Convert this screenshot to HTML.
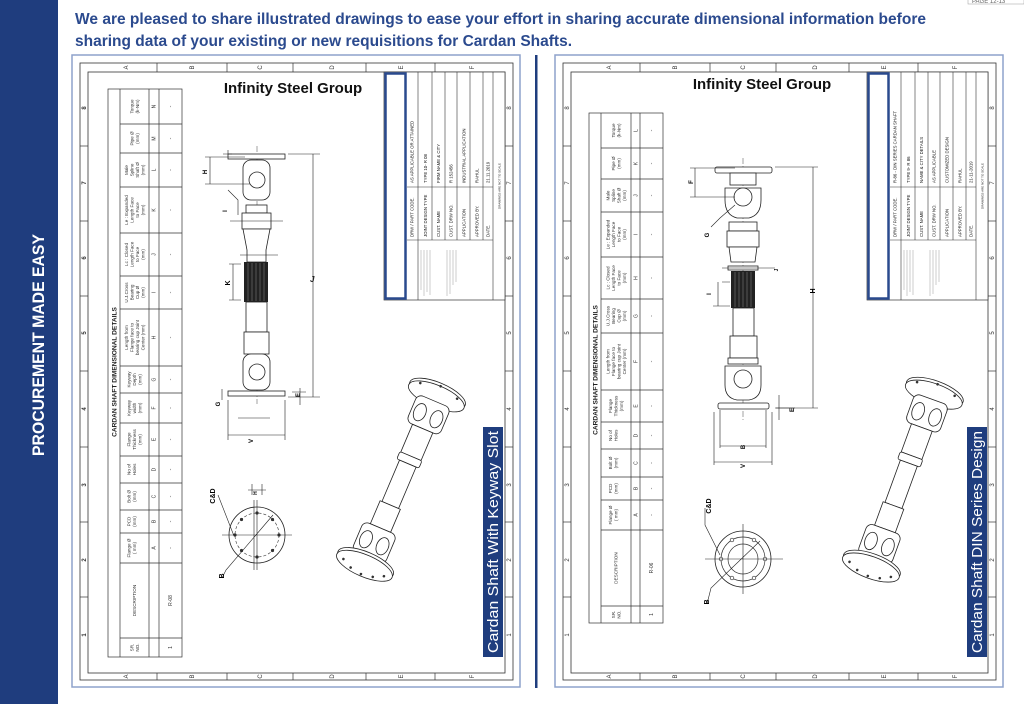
<!DOCTYPE html>
<html><head><meta charset="utf-8"><style>
html,body{margin:0;padding:0;background:#fff;}
svg{display:block;}
text{font-family:"Liberation Sans",sans-serif;}
.s{font-family:"Liberation Serif",serif;}
.h{font-size:4.6px;fill:#333;}
.l{font-size:5px;fill:#333;}
.z{font-size:6px;fill:#333;}
.tb{font-size:4.3px;fill:#111;}
.dl{stroke:#222;stroke-width:.6;fill:none;}
.ln{stroke:#222;stroke-width:.8;fill:#fff;}
</style></head><body>
<svg width="1024" height="704" viewBox="0 0 1024 704" xmlns="http://www.w3.org/2000/svg">
<rect width="1024" height="704" fill="#fff"/>
<!-- left band -->
<rect x="0" y="0" width="58" height="704" fill="#1f3d7e"/>
<text transform="translate(44,345) rotate(-90)" text-anchor="middle" font-size="17" font-weight="bold" fill="#fff" textLength="222" lengthAdjust="spacingAndGlyphs">PROCUREMENT MADE EASY</text>
<!-- header -->
<text x="75" y="24" font-size="16" font-weight="bold" fill="#2b4a8e" textLength="851" lengthAdjust="spacingAndGlyphs">We are pleased to share illustrated drawings to ease your effort in sharing accurate dimensional information before</text>
<text x="75" y="46" font-size="16" font-weight="bold" fill="#2b4a8e" textLength="497" lengthAdjust="spacingAndGlyphs">sharing data of your existing or new requisitions for Cardan Shafts.</text>
<rect x="968" y="-4" width="56" height="8" fill="#fff" stroke="#999" stroke-width=".5"/>
<text x="972" y="3" font-size="6" fill="#666">PAGE 12-13</text>
<!-- separator -->
<rect x="535" y="55" width="2.5" height="633" fill="#1f3d7e"/>

<!-- ============ FRAME (left) ============ -->
<g id="fr">
<rect x="72" y="55" width="448" height="632" fill="none" stroke="#8ea2cc" stroke-width="1.5"/>
<rect x="80" y="63" width="433" height="617" fill="none" stroke="#333" stroke-width=".8"/>
<rect x="88" y="72" width="417" height="601" fill="none" stroke="#333" stroke-width=".8"/>
<g stroke="#333" stroke-width=".7">
<line x1="157" y1="63" x2="157" y2="72"/><line x1="227" y1="63" x2="227" y2="72"/><line x1="293" y1="63" x2="293" y2="72"/><line x1="366" y1="63" x2="366" y2="72"/><line x1="435" y1="63" x2="435" y2="72"/>
<line x1="157" y1="673" x2="157" y2="680"/><line x1="227" y1="673" x2="227" y2="680"/><line x1="293" y1="673" x2="293" y2="680"/><line x1="366" y1="673" x2="366" y2="680"/><line x1="435" y1="673" x2="435" y2="680"/>
<line x1="80" y1="146" x2="88" y2="146"/><line x1="80" y1="221" x2="88" y2="221"/><line x1="80" y1="296" x2="88" y2="296"/><line x1="80" y1="371" x2="88" y2="371"/><line x1="80" y1="447" x2="88" y2="447"/><line x1="80" y1="522" x2="88" y2="522"/><line x1="80" y1="597" x2="88" y2="597"/>
<line x1="505" y1="146" x2="513" y2="146"/><line x1="505" y1="221" x2="513" y2="221"/><line x1="505" y1="296" x2="513" y2="296"/><line x1="505" y1="371" x2="513" y2="371"/><line x1="505" y1="447" x2="513" y2="447"/><line x1="505" y1="522" x2="513" y2="522"/><line x1="505" y1="597" x2="513" y2="597"/>
</g>
<g class="z">
<text transform="translate(126,67.5) rotate(-90)" text-anchor="middle" dy="2">A</text>
<text transform="translate(192,67.5) rotate(-90)" text-anchor="middle" dy="2">B</text>
<text transform="translate(260,67.5) rotate(-90)" text-anchor="middle" dy="2">C</text>
<text transform="translate(332,67.5) rotate(-90)" text-anchor="middle" dy="2">D</text>
<text transform="translate(401,67.5) rotate(-90)" text-anchor="middle" dy="2">E</text>
<text transform="translate(472,67.5) rotate(-90)" text-anchor="middle" dy="2">F</text>
<text transform="translate(126,676.5) rotate(-90)" text-anchor="middle" dy="2">A</text>
<text transform="translate(192,676.5) rotate(-90)" text-anchor="middle" dy="2">B</text>
<text transform="translate(260,676.5) rotate(-90)" text-anchor="middle" dy="2">C</text>
<text transform="translate(332,676.5) rotate(-90)" text-anchor="middle" dy="2">D</text>
<text transform="translate(401,676.5) rotate(-90)" text-anchor="middle" dy="2">E</text>
<text transform="translate(472,676.5) rotate(-90)" text-anchor="middle" dy="2">F</text>
<text transform="translate(84,108) rotate(-90)" text-anchor="middle" dy="2" font-weight="bold">8</text>
<text transform="translate(84,183) rotate(-90)" text-anchor="middle" dy="2" font-weight="bold">7</text>
<text transform="translate(84,258) rotate(-90)" text-anchor="middle" dy="2" font-weight="bold">6</text>
<text transform="translate(84,333) rotate(-90)" text-anchor="middle" dy="2" font-weight="bold">5</text>
<text transform="translate(84,409) rotate(-90)" text-anchor="middle" dy="2" font-weight="bold">4</text>
<text transform="translate(84,485) rotate(-90)" text-anchor="middle" dy="2" font-weight="bold">3</text>
<text transform="translate(84,560) rotate(-90)" text-anchor="middle" dy="2" font-weight="bold">2</text>
<text transform="translate(84,635) rotate(-90)" text-anchor="middle" dy="2" font-weight="bold">1</text>
<text transform="translate(509,108) rotate(-90)" text-anchor="middle" dy="2">8</text>
<text transform="translate(509,183) rotate(-90)" text-anchor="middle" dy="2">7</text>
<text transform="translate(509,258) rotate(-90)" text-anchor="middle" dy="2">6</text>
<text transform="translate(509,333) rotate(-90)" text-anchor="middle" dy="2">5</text>
<text transform="translate(509,409) rotate(-90)" text-anchor="middle" dy="2">4</text>
<text transform="translate(509,485) rotate(-90)" text-anchor="middle" dy="2">3</text>
<text transform="translate(509,560) rotate(-90)" text-anchor="middle" dy="2">2</text>
<text transform="translate(509,635) rotate(-90)" text-anchor="middle" dy="2">1</text>
</g>
<!-- title block -->
<rect x="384" y="72" width="121" height="228" fill="#fff" stroke="#333" stroke-width=".7"/>
<rect x="385.5" y="73.5" width="20" height="225" fill="#fff" stroke="#2a4a8e" stroke-width="2.5"/>
<g stroke="#333" stroke-width=".6">
<line x1="418" y1="72" x2="418" y2="300"/><line x1="432" y1="72" x2="432" y2="240"/><line x1="445" y1="72" x2="445" y2="240"/><line x1="457" y1="72" x2="457" y2="240"/><line x1="470" y1="72" x2="470" y2="240"/><line x1="483" y1="72" x2="483" y2="240"/><line x1="493" y1="72" x2="493" y2="300"/>
<line x1="407" y1="187" x2="493" y2="187"/><line x1="407" y1="240" x2="493" y2="240"/>
</g>
<g stroke="#999" stroke-width=".5">
<line x1="421" y1="250" x2="421" y2="290"/><line x1="424" y1="250" x2="424" y2="296"/><line x1="427" y1="250" x2="427" y2="292"/><line x1="430" y1="250" x2="430" y2="295"/>
<line x1="447" y1="250" x2="447" y2="296"/><line x1="450" y1="250" x2="450" y2="294"/><line x1="453" y1="250" x2="453" y2="285"/><line x1="456" y1="250" x2="456" y2="282"/>
</g>
</g>

<!-- left title block text -->
<g class="s tb">
<text transform="translate(413.5,237) rotate(-90)">DRW / PART CODE.</text>
<text transform="translate(427,237) rotate(-90)">JOINT DESIGN TYPE</text>
<text transform="translate(440,237) rotate(-90)">CUST. NAME</text>
<text transform="translate(452.5,237) rotate(-90)">CUST. DRW NO.</text>
<text transform="translate(465.5,237) rotate(-90)">APPLICATION</text>
<text transform="translate(478.5,237) rotate(-90)">APPROVED BY.</text>
<text transform="translate(489.5,237) rotate(-90)">DATE.</text>
<text transform="translate(413.5,183) rotate(-90)">AS APPLICABLE OR ATTAINED</text>
<text transform="translate(427,183) rotate(-90)">TYPE 10- R 08</text>
<text transform="translate(440,183) rotate(-90)">FIRM NAME &amp; CITY</text>
<text transform="translate(452.5,183) rotate(-90)">R 152456</text>
<text transform="translate(465.5,183) rotate(-90)">INDUSTRIAL APPLICATION</text>
<text transform="translate(478.5,183) rotate(-90)">RAHUL</text>
<text transform="translate(489.5,183) rotate(-90)">21.11.2019</text>
<text transform="translate(500.5,186) rotate(-90)" text-anchor="middle" font-size="3">DRAWINGS ARE NOT TO SCALE</text>
</g>
<text x="293" y="93" text-anchor="middle" font-size="15" font-weight="bold" fill="#111">Infinity Steel Group</text>
<rect x="483" y="427" width="20" height="230" fill="#1f3d7e"/>
<text transform="translate(498,542) rotate(-90)" text-anchor="middle" font-size="14.5" fill="#fff" textLength="222" lengthAdjust="spacingAndGlyphs">Cardan Shaft With Keyway Slot</text>

<!-- left table -->
<g stroke="#333" stroke-width=".7" fill="none">
<rect x="108" y="89" width="74" height="568"/>
<line x1="120" y1="89" x2="120" y2="657"/><line x1="149" y1="89" x2="149" y2="657"/><line x1="159" y1="89" x2="159" y2="657"/>
<g>
<line x1="120" y1="124" x2="182" y2="124"/><line x1="120" y1="153" x2="182" y2="153"/><line x1="120" y1="187" x2="182" y2="187"/><line x1="120" y1="233" x2="182" y2="233"/><line x1="120" y1="276" x2="182" y2="276"/><line x1="120" y1="309" x2="182" y2="309"/><line x1="120" y1="366" x2="182" y2="366"/><line x1="120" y1="393" x2="182" y2="393"/><line x1="120" y1="423" x2="182" y2="423"/><line x1="120" y1="456" x2="182" y2="456"/><line x1="120" y1="483" x2="182" y2="483"/><line x1="120" y1="510" x2="182" y2="510"/><line x1="120" y1="533" x2="182" y2="533"/><line x1="120" y1="563" x2="182" y2="563"/><line x1="120" y1="638" x2="182" y2="638"/>
</g></g>
<text transform="translate(116.5,372) rotate(-90)" text-anchor="middle" font-size="6.6" font-weight="bold" fill="#222">CARDAN SHAFT DIMENSIONAL DETAILS</text>
<g class="h" text-anchor="middle">
<text transform="translate(134.5,106.5) rotate(-90)"><tspan x="0" y="-1.15">Torque</tspan><tspan x="0" y="4.35">(k-Nm)</tspan></text>
<text transform="translate(134.5,138.5) rotate(-90)"><tspan x="0" y="-1.15">Pipe Ø</tspan><tspan x="0" y="4.35">(mm)</tspan></text>
<text transform="translate(134.5,170) rotate(-90)"><tspan x="0" y="-6.65">Male</tspan><tspan x="0" y="-1.15">Spline</tspan><tspan x="0" y="4.35">Shaft Ø</tspan><tspan x="0" y="9.85">(mm)</tspan></text>
<text transform="translate(134.5,210) rotate(-90)"><tspan x="0" y="-6.65">Le : Expanded</tspan><tspan x="0" y="-1.15">Length Face</tspan><tspan x="0" y="4.35">to Face</tspan><tspan x="0" y="9.85">(mm)</tspan></text>
<text transform="translate(134.5,254.5) rotate(-90)"><tspan x="0" y="-6.65">Lc : Closed</tspan><tspan x="0" y="-1.15">Length Face</tspan><tspan x="0" y="4.35">to Face</tspan><tspan x="0" y="9.85">(mm)</tspan></text>
<text transform="translate(134.5,292.5) rotate(-90)"><tspan x="0" y="-6.65">U.J.Cross</tspan><tspan x="0" y="-1.15">Bearing</tspan><tspan x="0" y="4.35">Cup Ø</tspan><tspan x="0" y="9.85">(mm)</tspan></text>
<text transform="translate(134.5,337.5) rotate(-90)"><tspan x="0" y="-6.65">Length from</tspan><tspan x="0" y="-1.15">Flange face to</tspan><tspan x="0" y="4.35">bearing cup Joint</tspan><tspan x="0" y="9.85">Center (mm)</tspan></text>
<text transform="translate(134.5,379.5) rotate(-90)"><tspan x="0" y="-3.9">Keyway</tspan><tspan x="0" y="1.6">Depth</tspan><tspan x="0" y="7.1">(mm)</tspan></text>
<text transform="translate(134.5,408) rotate(-90)"><tspan x="0" y="-3.9">Keyway</tspan><tspan x="0" y="1.6">width</tspan><tspan x="0" y="7.1">(mm)</tspan></text>
<text transform="translate(134.5,439.5) rotate(-90)"><tspan x="0" y="-3.9">Flange</tspan><tspan x="0" y="1.6">Thickness</tspan><tspan x="0" y="7.1">(mm)</tspan></text>
<text transform="translate(134.5,469.5) rotate(-90)"><tspan x="0" y="-3.9">No of</tspan><tspan x="0" y="1.6">Holes</tspan></text>
<text transform="translate(134.5,496.5) rotate(-90)"><tspan x="0" y="-3.9">Bolt Ø</tspan><tspan x="0" y="1.6">(mm)</tspan></text>
<text transform="translate(134.5,521.5) rotate(-90)"><tspan x="0" y="-3.9">PCD</tspan><tspan x="0" y="1.6">(mm)</tspan></text>
<text transform="translate(134.5,548) rotate(-90)"><tspan x="0" y="-3.9">Flange Ø</tspan><tspan x="0" y="1.6">( mm)</tspan></text>
<text transform="translate(134.5,600.5) rotate(-90)"><tspan x="0" y="1.6">DESCRIPTION</tspan></text>
<text transform="translate(134.5,647.5) rotate(-90)"><tspan x="0" y="-1.15">SR.</tspan><tspan x="0" y="4.35">NO.</tspan></text>
</g>
<g class="l" text-anchor="middle">
<text transform="translate(155.5,106.5) rotate(-90)">N</text><text transform="translate(155.5,138.5) rotate(-90)">M</text><text transform="translate(155.5,170) rotate(-90)">L</text><text transform="translate(155.5,210) rotate(-90)">K</text><text transform="translate(155.5,254.5) rotate(-90)">J</text><text transform="translate(155.5,292.5) rotate(-90)">I</text><text transform="translate(155.5,337.5) rotate(-90)">H</text><text transform="translate(155.5,379.5) rotate(-90)">G</text><text transform="translate(155.5,408) rotate(-90)">F</text><text transform="translate(155.5,439.5) rotate(-90)">E</text><text transform="translate(155.5,469.5) rotate(-90)">D</text><text transform="translate(155.5,496.5) rotate(-90)">C</text><text transform="translate(155.5,521.5) rotate(-90)">B</text><text transform="translate(155.5,548) rotate(-90)">A</text>
<text transform="translate(172,106.5) rotate(-90)">-</text><text transform="translate(172,138.5) rotate(-90)">-</text><text transform="translate(172,170) rotate(-90)">-</text><text transform="translate(172,210) rotate(-90)">-</text><text transform="translate(172,254.5) rotate(-90)">-</text><text transform="translate(172,292.5) rotate(-90)">-</text><text transform="translate(172,337.5) rotate(-90)">-</text><text transform="translate(172,379.5) rotate(-90)">-</text><text transform="translate(172,408) rotate(-90)">-</text><text transform="translate(172,439.5) rotate(-90)">-</text><text transform="translate(172,469.5) rotate(-90)">-</text><text transform="translate(172,496.5) rotate(-90)">-</text><text transform="translate(172,521.5) rotate(-90)">-</text><text transform="translate(172,548) rotate(-90)">-</text>
<text transform="translate(172,600.5) rotate(-90)">R-08</text><text transform="translate(172,647.5) rotate(-90)">1</text>
</g>

<!-- left side-view shaft -->
<g>
<line x1="257" y1="146" x2="257" y2="404" stroke="#444" stroke-width=".5" stroke-dasharray="6,2,1,2"/>
<rect class="ln" x="228" y="154" width="57" height="5"/>
<rect class="ln" x="243" y="160" width="27" height="40" rx="8"/>
<circle class="ln" cx="257" cy="180" r="8"/>
<rect class="ln" x="246" y="205" width="21" height="8"/>
<rect class="ln" x="242" y="213" width="29" height="16"/>
<path class="ln" d="M243 229 L247 250 L247 262 L266 262 L266 250 L270 229 Z"/>
<rect x="244" y="262" width="24" height="40" fill="#222"/>
<g stroke="#888" stroke-width=".5"><line x1="248" y1="263" x2="248" y2="301"/><line x1="252" y1="263" x2="252" y2="301"/><line x1="256" y1="263" x2="256" y2="301"/><line x1="260" y1="263" x2="260" y2="301"/><line x1="264" y1="263" x2="264" y2="301"/></g>
<rect class="ln" x="246" y="302" width="21" height="30"/>
<rect class="ln" x="244" y="332" width="25" height="22"/>
<rect class="ln" x="243" y="354" width="27" height="36" rx="8"/>
<circle class="ln" cx="257" cy="372" r="8"/>
<rect class="ln" x="228" y="391" width="57" height="5"/>
<path class="dl" d="M240 255 L278 255 M228 154 L228 150 M223 154 L232 154"/>
<path class="dl" d="M288 154 L320 154 M313 154 L313 397 M288 397 L320 397"/>
<text x="310" y="282" font-size="8" font-style="italic" font-weight="bold" fill="#222">J</text>
<path class="dl" d="M205 157 L245 157 M210 157 L210 184 M205 184 L250 184"/>
<text transform="translate(207,172) rotate(-90)" font-size="6" font-weight="bold" text-anchor="middle">H</text>
<path class="dl" d="M229 264 L241 264 M233 264 L233 300 M229 300 L241 300"/>
<text transform="translate(230,283) rotate(-90)" font-size="7" font-weight="bold" text-anchor="middle">K</text>
<path class="dl" d="M228 190 L238 200 L238 215 M230 221 L283 221"/>
<text transform="translate(227,211) rotate(-90)" font-size="6" font-weight="bold" text-anchor="middle">I</text>
<path class="dl" d="M228 400 L228 440 M285 400 L285 440 M228 435 L285 435 M238 418 L270 418"/>
<text transform="translate(253,441) rotate(-90)" font-size="6" font-weight="bold" text-anchor="middle">V</text>
<path class="dl" d="M222 389 L222 400 M300 388 L300 405 M292 392 L306 392"/>
<text transform="translate(220,404) rotate(-90)" font-size="6" font-weight="bold" text-anchor="middle">G</text>
<text transform="translate(300,395) rotate(-90)" font-size="6" font-weight="bold" text-anchor="middle">E</text>
</g>
<!-- left flange view -->
<g>
<circle class="ln" cx="257" cy="535" r="28" stroke-width="1"/>
<circle cx="257" cy="535" r="22" fill="none" stroke="#333" stroke-width=".6" stroke-dasharray="3,2"/>
<g fill="#333"><circle cx="279" cy="535" r="1.6"/><circle cx="235" cy="535" r="1.6"/><circle cx="257" cy="513" r="1.6"/><circle cx="257" cy="557" r="1.6"/><circle cx="272.5" cy="519.5" r="1.6"/><circle cx="241.5" cy="519.5" r="1.6"/><circle cx="272.5" cy="550.5" r="1.6"/><circle cx="241.5" cy="550.5" r="1.6"/></g>
<path class="dl" d="M222 535 L292 535 M257 500 L257 570 M254 500 L254 570 M248 490 L266 490 M252 484 L252 495 M262 484 L262 495 M273 515 L226 570 L222 578 M234 536 L218 495"/>
<text transform="translate(215,496) rotate(-90)" font-size="7" font-weight="bold" text-anchor="middle">C&amp;D</text>
<text transform="translate(224,576) rotate(-90)" font-size="7" font-weight="bold" text-anchor="middle">B</text>
<text transform="translate(257,493) rotate(-90)" font-size="5" font-weight="bold" text-anchor="middle">H</text>
</g>
<!-- left iso shaft -->
<g transform="translate(400,482) rotate(23)">
<ellipse class="ln" cx="0" cy="-96" rx="30" ry="11"/>
<ellipse class="ln" cx="0" cy="-93" rx="30" ry="11"/>
<rect class="ln" x="-18" y="-88" width="36" height="30" rx="6"/>
<ellipse class="ln" cx="-9" cy="-72" rx="6" ry="9"/><ellipse class="ln" cx="9" cy="-72" rx="6" ry="9"/>
<rect class="ln" x="-11" y="-58" width="22" height="30"/>
<rect class="ln" x="-12" y="-28" width="24" height="8" rx="2"/>
<rect class="ln" x="-9" y="-20" width="18" height="45"/>
<rect class="ln" x="-11" y="25" width="22" height="25"/>
<rect class="ln" x="-18" y="50" width="36" height="32" rx="6"/>
<ellipse class="ln" cx="-9" cy="66" rx="6" ry="9"/><ellipse class="ln" cx="9" cy="66" rx="6" ry="9"/>
<ellipse class="ln" cx="0" cy="88" rx="30" ry="11"/>
<ellipse class="ln" cx="0" cy="91" rx="30" ry="11"/>
<g fill="#333"><circle cx="-22" cy="93" r="1.3"/><circle cx="22" cy="93" r="1.3"/><circle cx="0" cy="100" r="1.3"/><circle cx="-12" cy="98" r="1.3"/><circle cx="12" cy="98" r="1.3"/><circle cx="-20" cy="-99" r="1.3"/><circle cx="20" cy="-99" r="1.3"/><circle cx="0" cy="-104" r="1.3"/></g>
</g>

<!-- ============ RIGHT PANEL ============ -->
<g transform="translate(483,0)">
<rect x="72" y="55" width="448" height="632" fill="none" stroke="#8ea2cc" stroke-width="1.5"/>
<rect x="80" y="63" width="433" height="617" fill="none" stroke="#333" stroke-width=".8"/>
<rect x="88" y="72" width="417" height="601" fill="none" stroke="#333" stroke-width=".8"/>
<g stroke="#333" stroke-width=".7">
<line x1="157" y1="63" x2="157" y2="72"/><line x1="227" y1="63" x2="227" y2="72"/><line x1="293" y1="63" x2="293" y2="72"/><line x1="366" y1="63" x2="366" y2="72"/><line x1="435" y1="63" x2="435" y2="72"/>
<line x1="157" y1="673" x2="157" y2="680"/><line x1="227" y1="673" x2="227" y2="680"/><line x1="293" y1="673" x2="293" y2="680"/><line x1="366" y1="673" x2="366" y2="680"/><line x1="435" y1="673" x2="435" y2="680"/>
<line x1="80" y1="146" x2="88" y2="146"/><line x1="80" y1="221" x2="88" y2="221"/><line x1="80" y1="296" x2="88" y2="296"/><line x1="80" y1="371" x2="88" y2="371"/><line x1="80" y1="447" x2="88" y2="447"/><line x1="80" y1="522" x2="88" y2="522"/><line x1="80" y1="597" x2="88" y2="597"/>
<line x1="505" y1="146" x2="513" y2="146"/><line x1="505" y1="221" x2="513" y2="221"/><line x1="505" y1="296" x2="513" y2="296"/><line x1="505" y1="371" x2="513" y2="371"/><line x1="505" y1="447" x2="513" y2="447"/><line x1="505" y1="522" x2="513" y2="522"/><line x1="505" y1="597" x2="513" y2="597"/>
</g>
<g class="z">
<text transform="translate(126,67.5) rotate(-90)" text-anchor="middle" dy="2">A</text>
<text transform="translate(192,67.5) rotate(-90)" text-anchor="middle" dy="2">B</text>
<text transform="translate(260,67.5) rotate(-90)" text-anchor="middle" dy="2">C</text>
<text transform="translate(332,67.5) rotate(-90)" text-anchor="middle" dy="2">D</text>
<text transform="translate(401,67.5) rotate(-90)" text-anchor="middle" dy="2">E</text>
<text transform="translate(472,67.5) rotate(-90)" text-anchor="middle" dy="2">F</text>
<text transform="translate(126,676.5) rotate(-90)" text-anchor="middle" dy="2">A</text>
<text transform="translate(192,676.5) rotate(-90)" text-anchor="middle" dy="2">B</text>
<text transform="translate(260,676.5) rotate(-90)" text-anchor="middle" dy="2">C</text>
<text transform="translate(332,676.5) rotate(-90)" text-anchor="middle" dy="2">D</text>
<text transform="translate(401,676.5) rotate(-90)" text-anchor="middle" dy="2">E</text>
<text transform="translate(472,676.5) rotate(-90)" text-anchor="middle" dy="2">F</text>
<text transform="translate(84,108) rotate(-90)" text-anchor="middle" dy="2">8</text>
<text transform="translate(84,183) rotate(-90)" text-anchor="middle" dy="2">7</text>
<text transform="translate(84,258) rotate(-90)" text-anchor="middle" dy="2">6</text>
<text transform="translate(84,333) rotate(-90)" text-anchor="middle" dy="2">5</text>
<text transform="translate(84,409) rotate(-90)" text-anchor="middle" dy="2">4</text>
<text transform="translate(84,485) rotate(-90)" text-anchor="middle" dy="2">3</text>
<text transform="translate(84,560) rotate(-90)" text-anchor="middle" dy="2">2</text>
<text transform="translate(84,635) rotate(-90)" text-anchor="middle" dy="2">1</text>
<text transform="translate(509,108) rotate(-90)" text-anchor="middle" dy="2">8</text>
<text transform="translate(509,183) rotate(-90)" text-anchor="middle" dy="2">7</text>
<text transform="translate(509,258) rotate(-90)" text-anchor="middle" dy="2">6</text>
<text transform="translate(509,333) rotate(-90)" text-anchor="middle" dy="2">5</text>
<text transform="translate(509,409) rotate(-90)" text-anchor="middle" dy="2">4</text>
<text transform="translate(509,485) rotate(-90)" text-anchor="middle" dy="2">3</text>
<text transform="translate(509,560) rotate(-90)" text-anchor="middle" dy="2">2</text>
<text transform="translate(509,635) rotate(-90)" text-anchor="middle" dy="2">1</text>
</g>
<rect x="384" y="72" width="121" height="228" fill="#fff" stroke="#333" stroke-width=".7"/>
<rect x="385.5" y="73.5" width="20" height="225" fill="#fff" stroke="#2a4a8e" stroke-width="2.5"/>
<g stroke="#333" stroke-width=".6">
<line x1="418" y1="72" x2="418" y2="300"/><line x1="432" y1="72" x2="432" y2="240"/><line x1="445" y1="72" x2="445" y2="240"/><line x1="457" y1="72" x2="457" y2="240"/><line x1="470" y1="72" x2="470" y2="240"/><line x1="483" y1="72" x2="483" y2="240"/><line x1="493" y1="72" x2="493" y2="300"/>
<line x1="407" y1="187" x2="493" y2="187"/><line x1="407" y1="240" x2="493" y2="240"/>
</g>
<g stroke="#999" stroke-width=".5">
<line x1="421" y1="250" x2="421" y2="290"/><line x1="424" y1="250" x2="424" y2="296"/><line x1="427" y1="250" x2="427" y2="292"/><line x1="430" y1="250" x2="430" y2="295"/>
<line x1="447" y1="250" x2="447" y2="296"/><line x1="450" y1="250" x2="450" y2="294"/><line x1="453" y1="250" x2="453" y2="285"/><line x1="456" y1="250" x2="456" y2="282"/>
</g>
<g class="s tb">
<text transform="translate(413.5,237) rotate(-90)">DRW / PART CODE.</text>
<text transform="translate(427,237) rotate(-90)">JOINT DESIGN TYPE</text>
<text transform="translate(440,237) rotate(-90)">CUST. NAME</text>
<text transform="translate(452.5,237) rotate(-90)">CUST. DRW NO.</text>
<text transform="translate(465.5,237) rotate(-90)">APPLICATION</text>
<text transform="translate(478.5,237) rotate(-90)">APPROVED BY.</text>
<text transform="translate(489.5,237) rotate(-90)">DATE.</text>
<text transform="translate(413.5,183) rotate(-90)">R-86 - DIN SERIES CARDAN SHAFT</text>
<text transform="translate(427,183) rotate(-90)">TYPE 9- R 86</text>
<text transform="translate(440,183) rotate(-90)">NAME &amp; CITY DETAILS</text>
<text transform="translate(452.5,183) rotate(-90)">AS APPLICABLE</text>
<text transform="translate(465.5,183) rotate(-90)">CUSTOMIZED DESIGN</text>
<text transform="translate(478.5,183) rotate(-90)">RAHUL</text>
<text transform="translate(489.5,183) rotate(-90)">21-11-2019</text>
<text transform="translate(500.5,186) rotate(-90)" text-anchor="middle" font-size="3">DRAWINGS ARE NOT TO SCALE</text>
</g>
<rect x="484" y="427" width="20" height="230" fill="#1f3d7e"/>
<text transform="translate(499,542) rotate(-90)" text-anchor="middle" font-size="14.5" fill="#fff" textLength="222" lengthAdjust="spacingAndGlyphs">Cardan Shaft DIN Series Design</text>
</g>
<text x="762" y="89" text-anchor="middle" font-size="15" font-weight="bold" fill="#111">Infinity Steel Group</text>

<!-- right table -->
<g stroke="#333" stroke-width=".7" fill="none">
<rect x="589" y="113" width="74" height="510"/>
<line x1="601" y1="113" x2="601" y2="623"/><line x1="631" y1="113" x2="631" y2="623"/><line x1="640" y1="113" x2="640" y2="623"/>
<line x1="601" y1="148" x2="663" y2="148"/><line x1="601" y1="179" x2="663" y2="179"/><line x1="601" y1="212" x2="663" y2="212"/><line x1="601" y1="257" x2="663" y2="257"/><line x1="601" y1="299" x2="663" y2="299"/><line x1="601" y1="333" x2="663" y2="333"/><line x1="601" y1="390" x2="663" y2="390"/><line x1="601" y1="422" x2="663" y2="422"/><line x1="601" y1="449" x2="663" y2="449"/><line x1="601" y1="477" x2="663" y2="477"/><line x1="601" y1="500" x2="663" y2="500"/><line x1="601" y1="530" x2="663" y2="530"/><line x1="601" y1="606" x2="663" y2="606"/>
</g>
<text transform="translate(597.5,370) rotate(-90)" text-anchor="middle" font-size="6.6" font-weight="bold" fill="#222">CARDAN SHAFT DIMENSIONAL DETAILS</text>
<g class="h" text-anchor="middle">
<text transform="translate(616,130.5) rotate(-90)"><tspan x="0" y="-1.15">Torque</tspan><tspan x="0" y="4.35">(k-Nm)</tspan></text>
<text transform="translate(616,163.5) rotate(-90)"><tspan x="0" y="-1.15">Pipe Ø</tspan><tspan x="0" y="4.35">(mm)</tspan></text>
<text transform="translate(616,195.5) rotate(-90)"><tspan x="0" y="-6.65">Male</tspan><tspan x="0" y="-1.15">Spline</tspan><tspan x="0" y="4.35">Shaft Ø</tspan><tspan x="0" y="9.85">(mm)</tspan></text>
<text transform="translate(616,234.5) rotate(-90)"><tspan x="0" y="-6.65">Le : Expanded</tspan><tspan x="0" y="-1.15">Length Face</tspan><tspan x="0" y="4.35">to Face</tspan><tspan x="0" y="9.85">(mm)</tspan></text>
<text transform="translate(616,278) rotate(-90)"><tspan x="0" y="-6.65">Lc : Closed</tspan><tspan x="0" y="-1.15">Length Face</tspan><tspan x="0" y="4.35">to Face</tspan><tspan x="0" y="9.85">(mm)</tspan></text>
<text transform="translate(616,316) rotate(-90)"><tspan x="0" y="-6.65">U.J.Cross</tspan><tspan x="0" y="-1.15">Bearing</tspan><tspan x="0" y="4.35">Cup Ø</tspan><tspan x="0" y="9.85">(mm)</tspan></text>
<text transform="translate(616,361.5) rotate(-90)"><tspan x="0" y="-6.65">Length from</tspan><tspan x="0" y="-1.15">Flange face to</tspan><tspan x="0" y="4.35">bearing cup Joint</tspan><tspan x="0" y="9.85">Center (mm)</tspan></text>
<text transform="translate(616,406) rotate(-90)"><tspan x="0" y="-3.9">Flange</tspan><tspan x="0" y="1.6">Thickness</tspan><tspan x="0" y="7.1">(mm)</tspan></text>
<text transform="translate(616,435.5) rotate(-90)"><tspan x="0" y="-3.9">No of</tspan><tspan x="0" y="1.6">Holes</tspan></text>
<text transform="translate(616,463) rotate(-90)"><tspan x="0" y="-3.9">Bolt Ø</tspan><tspan x="0" y="1.6">(mm)</tspan></text>
<text transform="translate(616,488.5) rotate(-90)"><tspan x="0" y="-3.9">PCD</tspan><tspan x="0" y="1.6">(mm)</tspan></text>
<text transform="translate(616,515) rotate(-90)"><tspan x="0" y="-3.9">Flange Ø</tspan><tspan x="0" y="1.6">( mm)</tspan></text>
<text transform="translate(616,568) rotate(-90)"><tspan x="0" y="1.6">DESCRIPTION</tspan></text>
<text transform="translate(616,614.5) rotate(-90)"><tspan x="0" y="-1.15">SR.</tspan><tspan x="0" y="4.35">NO.</tspan></text>
</g>
<g class="l" text-anchor="middle">
<text transform="translate(637.5,130.5) rotate(-90)">L</text><text transform="translate(637.5,163.5) rotate(-90)">K</text><text transform="translate(637.5,195.5) rotate(-90)">J</text><text transform="translate(637.5,234.5) rotate(-90)">I</text><text transform="translate(637.5,278) rotate(-90)">H</text><text transform="translate(637.5,316) rotate(-90)">G</text><text transform="translate(637.5,361.5) rotate(-90)">F</text><text transform="translate(637.5,406) rotate(-90)">E</text><text transform="translate(637.5,435.5) rotate(-90)">D</text><text transform="translate(637.5,463) rotate(-90)">C</text><text transform="translate(637.5,488.5) rotate(-90)">B</text><text transform="translate(637.5,515) rotate(-90)">A</text>
<text transform="translate(653,130.5) rotate(-90)">-</text><text transform="translate(653,163.5) rotate(-90)">-</text><text transform="translate(653,195.5) rotate(-90)">-</text><text transform="translate(653,234.5) rotate(-90)">-</text><text transform="translate(653,278) rotate(-90)">-</text><text transform="translate(653,316) rotate(-90)">-</text><text transform="translate(653,361.5) rotate(-90)">-</text><text transform="translate(653,406) rotate(-90)">-</text><text transform="translate(653,435.5) rotate(-90)">-</text><text transform="translate(653,463) rotate(-90)">-</text><text transform="translate(653,488.5) rotate(-90)">-</text><text transform="translate(653,515) rotate(-90)">-</text>
<text transform="translate(653,568) rotate(-90)">R-06</text><text transform="translate(653,614.5) rotate(-90)">1</text>
</g>

<!-- right side-view shaft -->
<g>
<line x1="743" y1="158" x2="743" y2="420" stroke="#444" stroke-width=".5" stroke-dasharray="6,2,1,2"/>
<rect class="ln" x="715" y="167" width="57" height="6" rx="2"/>
<rect class="ln" x="730" y="173" width="26" height="12"/>
<path class="ln" d="M725 188 L761 188 L761 200 Q761 215 749 218 L737 218 Q725 215 725 200 Z"/>
<circle class="ln" cx="743" cy="197" r="9"/>
<rect class="ln" x="729" y="222" width="28" height="9"/>
<rect class="ln" x="727" y="231" width="32" height="16"/>
<path class="ln" d="M729 247 L731 262 L755 262 L757 247 Z"/>
<rect class="ln" x="728" y="266" width="30" height="4"/>
<rect x="731" y="271" width="24" height="37" fill="#222"/>
<g stroke="#888" stroke-width=".5"><line x1="735" y1="272" x2="735" y2="307"/><line x1="739" y1="272" x2="739" y2="307"/><line x1="743" y1="272" x2="743" y2="307"/><line x1="747" y1="272" x2="747" y2="307"/><line x1="751" y1="272" x2="751" y2="307"/></g>
<rect class="ln" x="733" y="308" width="21" height="28"/>
<rect class="ln" x="730" y="336" width="27" height="22"/>
<rect class="ln" x="728" y="358" width="30" height="6"/>
<path class="ln" d="M725 366 L761 366 L761 385 Q761 398 749 400 L737 400 Q725 398 725 385 Z"/>
<circle class="ln" cx="743" cy="379" r="9"/>
<rect class="ln" x="718" y="403" width="51" height="6" rx="2"/>
<path class="dl" d="M775 167 L818 167 M813 167 L813 408 M775 408 L818 408"/>
<text transform="translate(813,291) rotate(-90)" font-size="7" font-weight="bold" text-anchor="middle" dy="2">H</text>
<path class="dl" d="M690 168 L735 168 M695 168 L695 197 M690 197 L735 197"/>
<text transform="translate(693,182) rotate(-90)" font-size="6" font-weight="bold" text-anchor="middle">F</text>
<path class="dl" d="M722 282 L730 282 M713 306 L730 306 M718 282 L718 306 M711 227 L720 218 L735 205 M722 268 L775 268"/>
<text transform="translate(711,294) rotate(-90)" font-size="6" font-weight="bold" text-anchor="middle">I</text>
<text transform="translate(709,235) rotate(-90)" font-size="6" font-weight="bold" text-anchor="middle">G</text>
<text transform="translate(778,270) rotate(-90)" font-size="5" font-weight="bold" text-anchor="middle">J</text>
<path class="dl" d="M714 412 L714 465 M772 412 L772 465 M714 462 L772 462 M720 410 L720 448 M766 410 L766 448 M720 446 L766 446 M776 408 L795 408 M779 395 L779 420"/>
<text transform="translate(745,447) rotate(-90)" font-size="6" font-weight="bold" text-anchor="middle">B</text>
<text transform="translate(745,466) rotate(-90)" font-size="6" font-weight="bold" text-anchor="middle">V</text>
<text transform="translate(794,410) rotate(-90)" font-size="6" font-weight="bold" text-anchor="middle">E</text>
</g>
<!-- right flange view -->
<g>
<circle class="ln" cx="743" cy="559" r="28" stroke-width="1"/>
<circle cx="743" cy="559" r="22" fill="none" stroke="#333" stroke-width=".7"/>
<circle cx="743" cy="559" r="15" fill="none" stroke="#333" stroke-width=".7"/>
<g fill="#fff" stroke="#333" stroke-width=".7"><circle cx="765" cy="559" r="1.8"/><circle cx="721" cy="559" r="1.8"/><circle cx="754" cy="540" r="1.8"/><circle cx="732" cy="540" r="1.8"/><circle cx="754" cy="578" r="1.8"/><circle cx="732" cy="578" r="1.8"/></g>
<path class="dl" d="M705 559 L783 559 M743 524 L743 594 M760 541 L711 588 L707 604 M720 555 L705 525 L705 508"/>
<text transform="translate(711,506) rotate(-90)" font-size="7" font-weight="bold" text-anchor="middle">C&amp;D</text>
<text transform="translate(709,602) rotate(-90)" font-size="7" font-weight="bold" text-anchor="middle">B</text>
</g>
<!-- right iso shaft -->
<g transform="translate(902,482) rotate(20)">
<ellipse class="ln" cx="0" cy="-96" rx="30" ry="11"/>
<ellipse class="ln" cx="0" cy="-93" rx="30" ry="11"/>
<rect class="ln" x="-18" y="-88" width="36" height="30" rx="6"/>
<ellipse class="ln" cx="-9" cy="-72" rx="6" ry="9"/><ellipse class="ln" cx="9" cy="-72" rx="6" ry="9"/>
<rect class="ln" x="-11" y="-58" width="22" height="30"/>
<rect class="ln" x="-12" y="-28" width="24" height="8" rx="2"/>
<rect class="ln" x="-9" y="-20" width="18" height="45"/>
<rect class="ln" x="-11" y="25" width="22" height="25"/>
<rect class="ln" x="-18" y="50" width="36" height="32" rx="6"/>
<ellipse class="ln" cx="-9" cy="66" rx="6" ry="9"/><ellipse class="ln" cx="9" cy="66" rx="6" ry="9"/>
<ellipse class="ln" cx="0" cy="88" rx="30" ry="11"/>
<ellipse class="ln" cx="0" cy="91" rx="30" ry="11"/>
<g fill="#333"><circle cx="-22" cy="93" r="1.3"/><circle cx="22" cy="93" r="1.3"/><circle cx="0" cy="100" r="1.3"/><circle cx="-12" cy="98" r="1.3"/><circle cx="12" cy="98" r="1.3"/><circle cx="-20" cy="-99" r="1.3"/><circle cx="20" cy="-99" r="1.3"/><circle cx="0" cy="-104" r="1.3"/></g>
</g>
</svg>
</body></html>
